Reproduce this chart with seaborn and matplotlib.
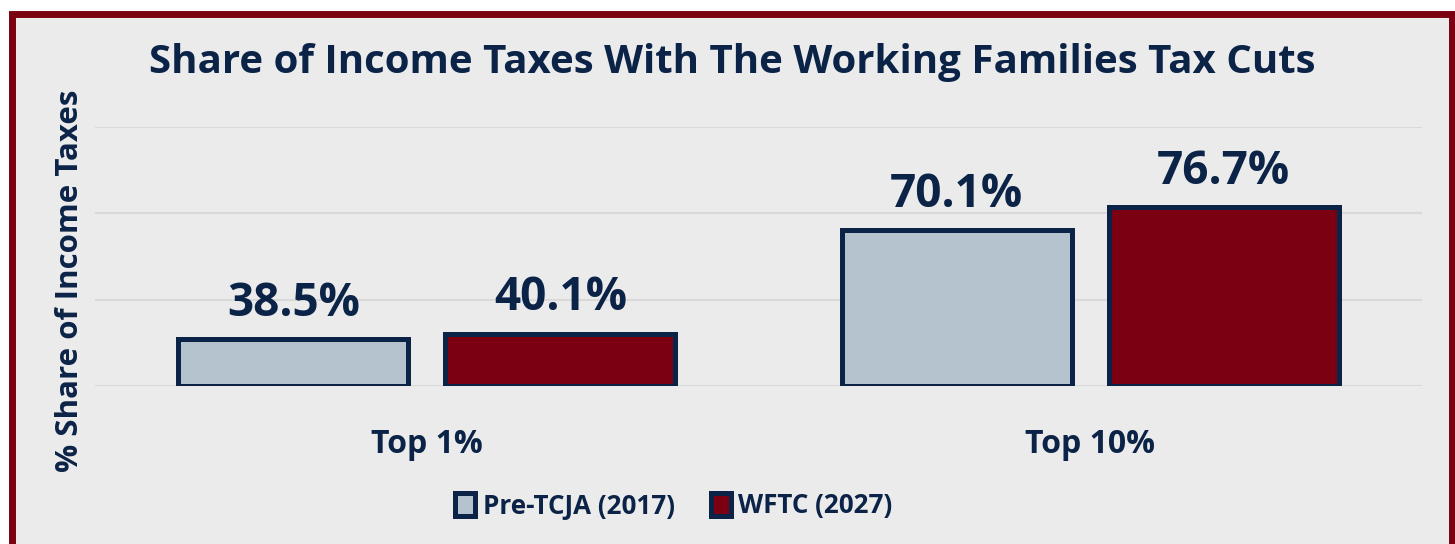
import pandas as pd
import matplotlib.pyplot as plt
from matplotlib.patches import Rectangle
import seaborn as sns

# --- datos ---
groups = ["Top 1%", "Top 10%"]
series = ["Pre-TCJA (2017)", "WFTC (2027)"]
pre_tcja = [38.5, 70.1]
wftc = [40.1, 76.7]
y_ticks = [25, 50, 75, 100]

NAVY = "#0B2347"
RED = "#7A0012"
LIGHT = "#B5C3CF"
BG = "#EBEBEB"

df = pd.DataFrame({
    "group": groups * 2,
    "series": [series[0]] * len(groups) + [series[1]] * len(groups),
    "share": pre_tcja + wftc,
})

sns.set_style("white")
plt.rcParams["font.family"] = ["Open Sans", "DejaVu Sans"]
plt.rcParams["font.weight"] = "bold"

fig = plt.figure(figsize=(14.55, 5.44), dpi=100)
fig.patch.set_facecolor("white")

# marco rojo con fondo gris (detrás del eje)
W, H = 1455, 544
frame = Rectangle((11.5 / W, -20 / H), 1440 / W, (H - 13.5 + 20) / H,
                  transform=fig.transFigure, facecolor=BG, edgecolor=RED,
                  linewidth=5.0, zorder=-1)
fig.patches.append(frame)

ax = fig.add_axes([95 / W, 1 - 386 / H, (1422 - 95) / W, (386 - 127) / H])
ax.set_facecolor("none")

sns.barplot(data=df, x="group", y="share", hue="series",
            palette=[LIGHT, RED], saturation=1, width=0.805, gap=0.14,
            edgecolor=NAVY, linewidth=3.6, ax=ax, zorder=3)

ymin = y_ticks[0]
ax.set_ylim(ymin, y_ticks[-1])
ax.set_xlim(-0.5, 1.5)

# las barras arrancan en la base del eje (25%)
for p in ax.patches:
    h = p.get_height()
    p.set_y(ymin)
    p.set_height(h - ymin)

for c in ax.containers:
    ax.bar_label(c, fmt="{:.1f}%", padding=9, fontsize=33,
                 fontweight="bold", color=NAVY)

ax.set_yticks(y_ticks)
ax.set_yticklabels([])
ax.yaxis.grid(True, color="#D9D9D9", linewidth=1.5)
ax.set_axisbelow(True)
ax.tick_params(axis="both", length=0)
ax.tick_params(axis="x", pad=30, labelsize=23, labelcolor=NAVY)
for t in ax.get_xticklabels():
    t.set_fontweight("bold")
sns.despine(ax=ax, left=True, bottom=True)
ax.set_xlabel("")
ax.set_ylabel("")

fig.text(70 / W, 1 - 281 / H, "% Share of Income Taxes", rotation=90,
         ha="center", va="center", fontsize=22.5, fontweight="bold", color=NAVY)
fig.text(732 / W, 1 - 62 / H, "Share of Income Taxes With The Working Families Tax Cuts",
         ha="center", va="center", fontsize=29, fontweight="bold", color=NAVY)

handles, labels = ax.get_legend_handles_labels()
for hd in handles:
    hd.set_edgecolor(NAVY)
    hd.set_linewidth(3.6)
ax.legend(handles, labels, loc="center", bbox_to_anchor=(674 / W, 1 - 506 / H),
          bbox_transform=fig.transFigure, ncol=2, frameon=False,
          handlelength=0.75, handleheight=1.0, handletextpad=0.3,
          columnspacing=1.4, prop={"size": 18.7, "weight": "bold"},
          labelcolor=NAVY)

fig.savefig("out.png", dpi=100, facecolor="white")
